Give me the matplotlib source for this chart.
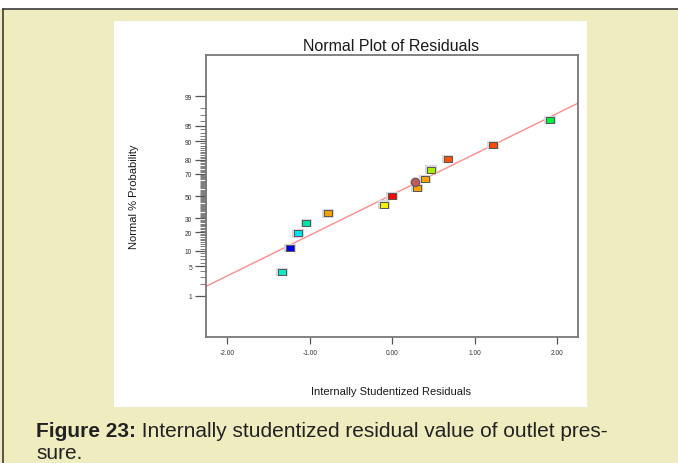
import matplotlib
matplotlib.use("Agg")
import matplotlib.pyplot as plt
from matplotlib.lines import Line2D
from matplotlib.patches import Rectangle
from statistics import NormalDist

# residuals and their normal % probability
residuals = [-1.34, -1.24, -1.14, -1.04, -0.775, -0.105, 0.0, 0.30, 0.28, 0.40, 0.47, 0.67, 1.22, 1.91]
probability = [3.8, 11.3, 19.2, 26.4, 34.3, 42.0, 50.0, 57.4, 62.5, 65.2, 73.0, 80.6, 88.3, 96.2]
point_colors = ['#14e6cc', '#0000e0', '#00e0f0', '#00e0a8', '#f5a300', '#f0f000', '#ff0000',
                '#ffa500', '#c05a5a', '#ffa200', '#a8f000', '#ff5200', '#ff4800', '#00f040']
point_shapes = ['s', 's', 's', 's', 's', 's', 's', 's', 'o', 's', 's', 's', 's', 's']

# reference line end points
fit_x = [-2.26, 2.25]
fit_pct = [1.74, 98.48]

y_major = [1, 5, 10, 20, 30, 50, 70, 80, 90, 95, 99]
x_ticks = [-2, -1, 0, 1, 2]

nd = NormalDist()


def z(p):
    return nd.inv_cdf(p / 100.0)


W, H = 678, 464
plt.rcParams['font.family'] = ['Liberation Sans', 'DejaVu Sans']
fig = plt.figure(figsize=(W / 100, H / 100), dpi=100, facecolor='#efedbf')

# page frame and the white chart panel
fig.add_artist(Rectangle((0, 1 - 10 / H), 1, 10 / H, transform=fig.transFigure,
                         facecolor='white', edgecolor='none', zorder=-2))
fig.add_artist(Line2D([3 / W, 1], [1 - 10 / H, 1 - 10 / H], transform=fig.transFigure,
                      color='#3c3c3c', lw=1.2, zorder=-1))
fig.add_artist(Line2D([3 / W, 3 / W], [0, 1 - 10 / H], transform=fig.transFigure,
                      color='#3c3c3c', lw=1.2, zorder=-1))
fig.add_artist(Rectangle((114 / W, 1 - 408 / H), 473 / W, 386 / H, transform=fig.transFigure,
                         facecolor='white', edgecolor='none', zorder=-2))

ax = fig.add_axes([206 / W, 1 - 338 / H, 372 / W, 282 / H])
ax.set_facecolor('white')
for s in ax.spines.values():
    s.set_color('#777777')
    s.set_linewidth(1.3)

ax.set_xlim(-2.258, 2.251)
ax.set_ylim(-3.29, 3.29)

# fitted line
ax.plot(fit_x, [z(p) for p in fit_pct], color='#ff8c8c', lw=1.0, zorder=2)

rect = [(-1, -0.72), (1, -0.72), (1, 0.72), (-1, 0.72), (-1, -0.72)]
for xv, pv, c, m in zip(residuals, probability, point_colors, point_shapes):
    mk = rect if m == 's' else 'o'
    sz = 40 if m == 's' else 36
    ax.scatter([xv], [z(pv)], marker=mk, s=sz * 1.8, color='#d8d8d8', edgecolors='none', zorder=3)
    ax.scatter([xv], [z(pv)], marker=mk, s=sz, color=c, edgecolors='#555555', linewidths=0.7, zorder=4)

# probability axis ticks
ax.set_yticks([z(p) for p in y_major])
ax.set_yticklabels([str(p) for p in y_major])
minor = [p for p in range(2, 99) if p not in y_major]
ax.set_yticks([z(p) for p in minor], minor=True)
ax.tick_params(axis='y', which='major', length=8, width=0.9, color='#555555',
               labelsize=4.8, labelcolor='#333333', pad=2)
ax.tick_params(axis='y', which='minor', length=4, width=0.6, color='#666666')

ax.set_xticks(x_ticks)
ax.set_xticklabels(['%.2f' % v for v in x_ticks])
ax.tick_params(axis='x', length=5, width=0.9, color='#555555',
               labelsize=4.8, labelcolor='#333333', pad=4)

fig.text(391 / W, 1 - 47 / H, 'Normal Plot of Residuals', fontsize=11.5,
         ha='center', va='center', color='#1a1a1a')
fig.text(391 / W, 1 - 392 / H, 'Internally Studentized Residuals', fontsize=8,
         ha='center', va='center', color='#1a1a1a')
fig.text(134 / W, 1 - 197 / H, 'Normal % Probability', fontsize=8, rotation=90,
         ha='center', va='center', color='#1a1a1a')

# caption
t1 = fig.text(36 / W, 1 - 437 / H, 'Figure 23:', fontsize=15, fontweight='bold',
              color='#222222', va='baseline')
ax.annotate(' Internally studentized residual value of outlet pres-', xy=(1, 0),
            xycoords=t1, fontsize=15, color='#222222',
            va='bottom', annotation_clip=False)
fig.text(36 / W, 1 - 459 / H, 'sure.', fontsize=15, color='#222222', va='baseline')

fig.savefig('out.png', dpi=100, facecolor=fig.get_facecolor())
